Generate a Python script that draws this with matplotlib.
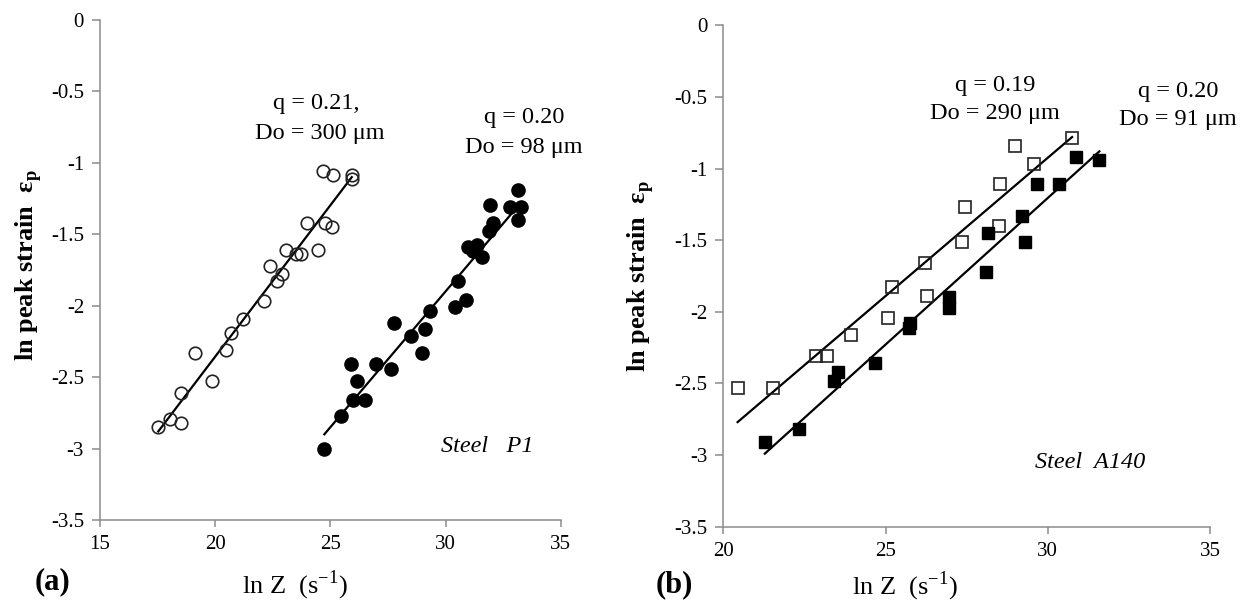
import numpy as np
import matplotlib
matplotlib.use('Agg')
import matplotlib.pyplot as plt

plt.rcParams['font.family'] = ['Liberation Serif', 'DejaVu Serif']
plt.rcParams['axes.unicode_minus'] = False
plt.rcParams['mathtext.fontset'] = 'custom'
plt.rcParams['mathtext.rm'] = 'Liberation Serif'
plt.rcParams['mathtext.bf'] = 'Liberation Serif:bold'

# ---- steel P1 (panel a) ----
p1_coarse_x = [17.53, 18.04, 18.52, 18.52, 19.12, 19.85, 20.46, 20.69, 21.22, 22.13,
               22.40, 22.67, 22.89, 23.08, 23.51, 23.71, 24.00, 24.48, 24.67, 24.77,
               25.09, 25.13, 25.93, 25.93]
p1_coarse_y = [-2.85, -2.79, -2.82, -2.61, -2.33, -2.53, -2.31, -2.19, -2.09, -1.97,
               -1.72, -1.83, -1.78, -1.61, -1.64, -1.64, -1.42, -1.61, -1.06, -1.42,
               -1.45, -1.085, -1.085, -1.11]
p1_fine_x = [24.74, 25.46, 25.90, 25.97, 26.17, 26.52, 26.98, 27.64, 27.78, 28.50,
             28.96, 29.11, 29.33, 30.41, 30.87, 30.56, 30.99, 31.21, 31.36, 31.57,
             31.90, 31.93, 32.08, 32.80, 33.16, 33.27, 33.16]
p1_fine_y = [-3.00, -2.77, -2.41, -2.66, -2.53, -2.66, -2.41, -2.44, -2.12, -2.21,
             -2.33, -2.16, -2.04, -2.01, -1.96, -1.83, -1.59, -1.62, -1.575, -1.66,
             -1.48, -1.295, -1.42, -1.31, -1.19, -1.31, -1.40]
p1_coarse_fit_x = [17.53, 25.93]
p1_coarse_fit_y = [-2.88, -1.10]
p1_fine_fit_x = [24.74, 33.0]
p1_fine_fit_y = [-2.90, -1.33]

# ---- steel A140 (panel b) ----
a140_coarse_x = [20.44, 21.52, 22.85, 23.21, 23.95, 25.08, 25.21, 26.23, 26.29, 27.35,
                 27.46, 28.49, 28.53, 29.00, 29.57, 30.75]
a140_coarse_y = [-2.53, -2.53, -2.31, -2.31, -2.16, -2.045, -1.83, -1.66, -1.89, -1.51,
                 -1.27, -1.40, -1.11, -0.84, -0.97, -0.79]
a140_fine_x = [21.28, 22.34, 23.42, 23.52, 24.67, 25.72, 25.76, 26.95, 26.95, 28.10,
               28.15, 29.20, 29.31, 29.66, 30.36, 30.87, 31.57]
a140_fine_y = [-2.91, -2.82, -2.485, -2.42, -2.36, -2.11, -2.08, -1.90, -1.97, -1.72,
               -1.45, -1.33, -1.51, -1.11, -1.11, -0.92, -0.94]
a140_coarse_fit_x = [20.44, 30.75]
a140_coarse_fit_y = [-2.77, -0.78]
a140_fine_fit_x = [21.28, 31.59]
a140_fine_fit_y = [-2.99, -0.88]

W, H = 1244, 610
fig = plt.figure(figsize=(W / 100, H / 100), dpi=100)

ax1 = fig.add_axes([100 / W, 1 - 520 / H, 460.7 / W, 500 / H])
ax2 = fig.add_axes([723.3 / W, 1 - 526.7 / H, 486.7 / W, 501.4 / H])

spine_col = '#8c8c8c'
for ax, xlim, xt in [(ax1, (15, 35), [15, 20, 25, 30, 35]),
                     (ax2, (20, 35), [20, 25, 30, 35])]:
    ax.set_xlim(*xlim)
    ax.set_ylim(-3.5, 0)
    ax.set_xticks(xt)
    ax.set_yticks(np.arange(-3.5, 0.01, 0.5))
    ax.set_yticklabels(['{:g}'.format(v) for v in np.arange(-3.5, 0.01, 0.5)])
    for s in ['top', 'right']:
        ax.spines[s].set_visible(False)
    for s in ['left', 'bottom']:
        ax.spines[s].set_color(spine_col)
        ax.spines[s].set_linewidth(1.1)
    ax.tick_params(axis='y', direction='out', length=5.5, width=1.1, color=spine_col,
                   labelsize=15, pad=6)
    ax.tick_params(axis='x', direction='out', length=5, width=1.1, color=spine_col,
                   labelsize=15, pad=6)
    ax.set_xlabel(r'ln Z  (s$^{\mathregular{-1}}$)', fontsize=19, va='center')
    ax.set_ylabel(r'ln peak strain  $\mathbf{\varepsilon}_{\mathregular{p}}$',
                  fontsize=19, fontweight='bold', va='center')

ax1.xaxis.set_label_coords(0.423, -0.13)
ax1.yaxis.set_label_coords(-0.156, 0.51)
ax2.xaxis.set_label_coords(0.373, -0.118)
ax2.yaxis.set_label_coords(-0.171, 0.5)

# panel a
ax1.plot(p1_coarse_fit_x, p1_coarse_fit_y, color='black', lw=1.6)
ax1.plot(p1_fine_fit_x, p1_fine_fit_y, color='black', lw=1.6)
ax1.plot(p1_coarse_x, p1_coarse_y, 'o', ms=9, mfc='none', mec='#222222', mew=1.2)
ax1.plot(p1_fine_x, p1_fine_y, 'o', ms=9.5, mfc='black', mec='black')

# panel b
ax2.plot(a140_coarse_fit_x, a140_coarse_fit_y, color='black', lw=1.6)
ax2.plot(a140_fine_fit_x, a140_fine_fit_y, color='black', lw=1.6)
ax2.plot(a140_coarse_x, a140_coarse_y, 's', ms=8, mfc='none', mec='#222222', mew=1.2)
ax2.plot(a140_fine_x, a140_fine_y, 's', ms=8.5, mfc='black', mec='black')


def ftext(x, y, s, **kw):
    fig.text(x / W, 1 - y / H, s, ha='center', va='center', **kw)


ftext(316, 103, 'q = 0.21,', fontsize=17.5)
ftext(320, 133, 'Do = 300 μm', fontsize=17.5)
ftext(524, 118, 'q = 0.20', fontsize=17.5)
ftext(524, 147, 'Do = 98 μm', fontsize=17.5)
ftext(487, 447, 'Steel   P1', fontsize=17.5, style='italic')

ftext(995, 85, 'q = 0.19', fontsize=17.5)
ftext(995, 113, 'Do = 290 μm', fontsize=17.5)
ftext(1178, 92, 'q = 0.20', fontsize=17.5)
ftext(1178, 120, 'Do = 91 μm', fontsize=17.5)
ftext(1090, 462, 'Steel  A140', fontsize=17.5, style='italic')

ftext(52, 582, '(a)', fontsize=22, fontweight='bold')
ftext(674, 585, '(b)', fontsize=22, fontweight='bold')

fig.savefig('out.png', dpi=100)
